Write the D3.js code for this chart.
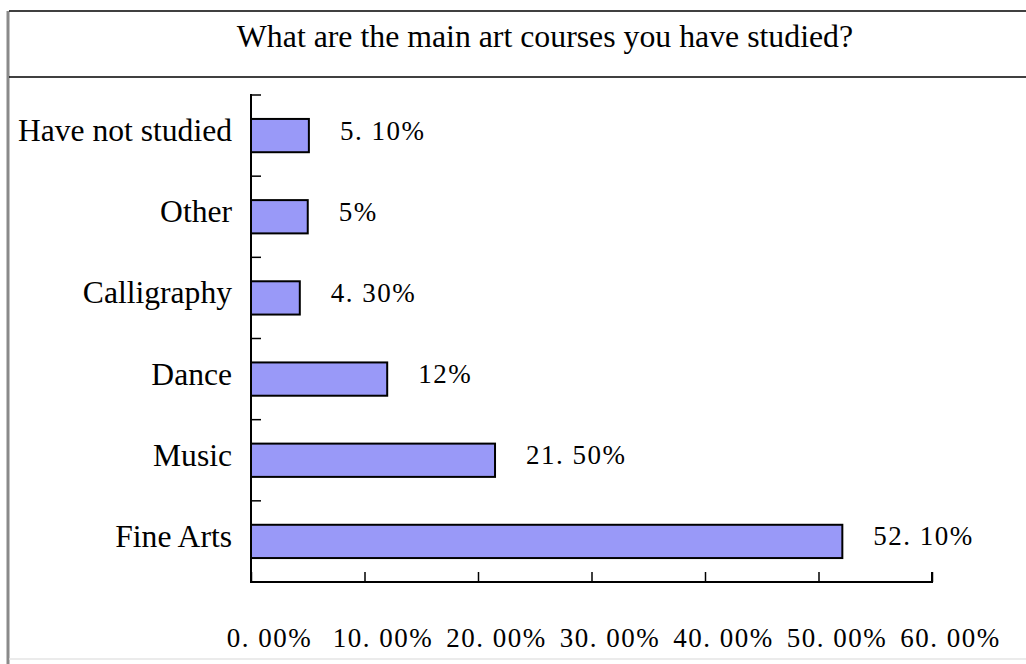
<!DOCTYPE html>
<html>
<head>
<meta charset="utf-8">
<script src="https://cdn.jsdelivr.net/npm/d3@7"></script>
<style>
  html, body { margin: 0; padding: 0; background: #fff; }
  svg { display: block; }
</style>
</head>
<body>
<svg id="chart" width="1026" height="664"></svg>
<script>
// Survey responses: share of students per art course studied
const categories = ["Have not studied", "Other", "Calligraphy", "Dance", "Music", "Fine Arts"];
const shares = [0.051, 0.05, 0.043, 0.12, 0.215, 0.521];
const xTicks = [0, 0.1, 0.2, 0.3, 0.4, 0.5, 0.6];
const title = "What are the main art courses you have studied?";

const data = categories.map((c, i) => ({ name: c, value: shares[i] }));

const svg = d3.select("#chart");
const W = 1026, H = 664;

const serif = "'Liberation Serif', 'Times New Roman', serif";

// percentage text in the "5. 10%" style; whole numbers drop the decimals
const pct = v => {
  const p = Math.round(v * 10000) / 100;
  if (Number.isInteger(p)) return p + "%";
  return p.toFixed(2).replace(".", ". ") + "%";
};
const tickFmt = v => (v * 100).toFixed(2).replace(".", ". ") + "%";

// frame and title strip
svg.append("line").attr("x1", 8).attr("x2", 8).attr("y1", 11).attr("y2", H)
  .attr("stroke", "#8a8a8a").attr("stroke-width", 3);
svg.append("line").attr("x1", 9).attr("x2", W).attr("y1", 11).attr("y2", 11)
  .attr("stroke", "#000").attr("stroke-width", 1.5);
svg.append("line").attr("x1", 9).attr("x2", W).attr("y1", 77).attr("y2", 77)
  .attr("stroke", "#000").attr("stroke-width", 1.5);
svg.append("line").attr("x1", 9).attr("x2", W).attr("y1", 659).attr("y2", 659)
  .attr("stroke", "#e4e4e4").attr("stroke-width", 1.5);

svg.append("text")
  .attr("x", 545).attr("y", 47)
  .attr("text-anchor", "middle")
  .attr("font-family", serif).attr("font-size", 31.8)
  .attr("fill", "#000")
  .text(title);

// scales
const x = d3.scaleLinear().domain([0, 0.6]).range([251, 932]);
const y = d3.scaleBand().domain(categories).range([95, 582])
  .paddingInner(0.59).paddingOuter(0.295);
const step = y.step();

// bars
svg.append("g").selectAll("rect").data(data).join("rect")
  .attr("x", x(0))
  .attr("y", d => y(d.name))
  .attr("width", d => x(d.value) - x(0))
  .attr("height", y.bandwidth())
  .attr("fill", "#9999f8")
  .attr("stroke", "#000")
  .attr("stroke-width", 2);

// x axis: ticks point up into the plot, labels set below
const xAxis = d3.axisBottom(x).tickValues(xTicks).tickSize(-10).tickFormat(tickFmt);
const gx = svg.append("g").attr("transform", `translate(0,582)`).call(xAxis);
gx.select(".domain").attr("stroke", "#000").attr("stroke-width", 2)
  .attr("d", `M${x(0)},-10V0H${x(0.6)}V-10`);
gx.selectAll(".tick line").attr("stroke", "#000").attr("stroke-width", 1.5);
gx.selectAll(".tick text")
  .attr("y", 0).attr("dy", 0)
  .attr("transform", "translate(18,65)")
  .attr("font-family", serif).attr("font-size", 27)
  .attr("letter-spacing", 1.5)
  .attr("fill", "#000");

// y axis with ticks at category boundaries, pointing right
const boundaries = d3.range(categories.length).map(i => 95 + i * step);
svg.append("line").attr("x1", x(0)).attr("x2", x(0)).attr("y1", 94).attr("y2", 583)
  .attr("stroke", "#000").attr("stroke-width", 2);
svg.append("g").selectAll("line").data(boundaries).join("line")
  .attr("x1", x(0)).attr("x2", x(0) + 10)
  .attr("y1", d => d).attr("y2", d => d)
  .attr("stroke", "#000").attr("stroke-width", 1.5);

// category names
svg.append("g").selectAll("text").data(data).join("text")
  .attr("x", 232)
  .attr("y", d => y(d.name) + y.bandwidth() / 2 + 5.5)
  .attr("text-anchor", "end")
  .attr("font-family", serif).attr("font-size", 31.6)
  .attr("fill", "#000")
  .text(d => d.name);

// value labels
svg.append("g").selectAll("text").data(data).join("text")
  .attr("x", d => x(d.value) + 31)
  .attr("y", d => y(d.name) + y.bandwidth() / 2 + 4)
  .attr("font-family", serif).attr("font-size", 27)
  .attr("letter-spacing", 1.5)
  .attr("fill", "#000")
  .text(d => pct(d.value));
</script>
</body>
</html>
